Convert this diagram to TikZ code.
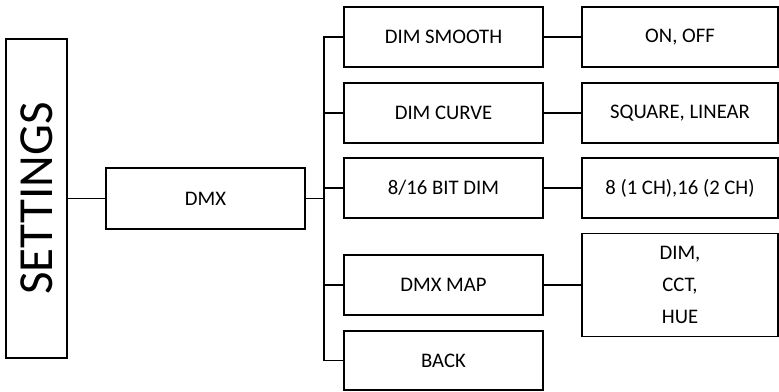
\documentclass[tikz,border=0pt]{standalone}
\usepackage{fontspec}
\setmainfont{Carlito}
\begin{document}
\begin{tikzpicture}[x=1pt,y=-1pt,
  box/.style={draw=black,line width=1.5pt,fill=white,inner sep=0pt,anchor=center,
    font=\fontsize{20.7}{32}\selectfont,align=center},
  link/.style={draw=black,line width=1.5pt}]
\useasboundingbox[fill=white] (0,0) rectangle (779,391);
% first level
\node[box,minimum width=61pt,minimum height=319pt] (settings) at (36.5,198.5)
  {\rotatebox{90}{\fontsize{49}{50}\selectfont SETTINGS}};
\node[box,minimum width=199pt,minimum height=61pt] (dmx) at (205.5,198.5) {DMX};
% second level
\node[box,minimum width=199pt,minimum height=60pt] (smooth) at (443.5,37) {DIM SMOOTH};
\node[box,minimum width=199pt,minimum height=60pt] (curve) at (443.5,113) {DIM CURVE};
\node[box,minimum width=199pt,minimum height=60pt] (bit) at (443.5,188) {8/16 BIT DIM};
\node[box,minimum width=199pt,minimum height=60pt] (map) at (443.5,285) {DMX MAP};
\node[box,minimum width=199pt,minimum height=59pt] (back) at (443.5,360.5) {BACK};
% third level
\node[box,minimum width=196pt,minimum height=60pt] (onoff) at (680,37) {ON, OFF};
\node[box,minimum width=196pt,minimum height=60pt] (square) at (680,113) {SQUARE, LINEAR};
\node[box,minimum width=196pt,minimum height=60pt] (bits) at (680,188) {8 (1 CH),16 (2 CH)};
\node[box,minimum width=196pt,minimum height=103pt] (mapvals) at (680,285) {DIM,\\CCT,\\HUE};
% bus
\coordinate (bus) at (324,0);
\draw[link] (settings.east) -- (dmx.west);
\draw[link] (dmx.east) -- (dmx.east -| bus);
\draw[link] (smooth.west) -- (smooth.west -| bus) -- (back.west -| bus) -- (back.west);
\draw[link] (curve.west) -- (curve.west -| bus);
\draw[link] (bit.west) -- (bit.west -| bus);
\draw[link] (map.west) -- (map.west -| bus);
% third-level links
\draw[link] (smooth.east) -- (onoff.west);
\draw[link] (curve.east) -- (square.west);
\draw[link] (bit.east) -- (bits.west);
\draw[link] (map.east) -- (mapvals.west);
\end{tikzpicture}
\end{document}
